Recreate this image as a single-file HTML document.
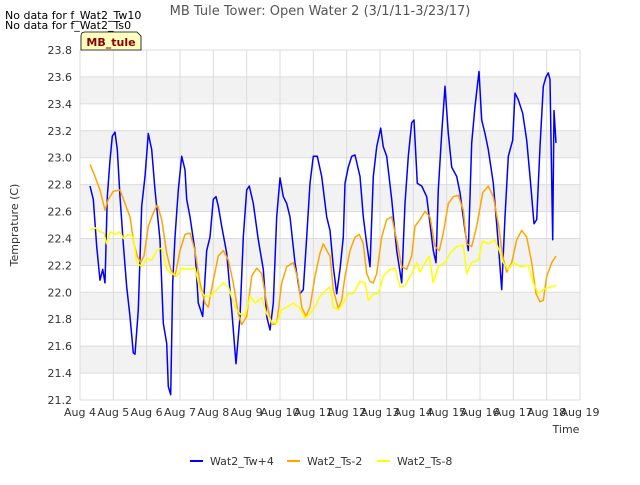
<!DOCTYPE html>
<html><head><meta charset="utf-8"><style>
body{margin:0;background:#fff;font-family:"Liberation Sans",sans-serif;}
svg text{font-family:"DejaVu Sans","Liberation Sans",sans-serif;}
</style></head><body>
<svg id="chart" width="640" height="480" xmlns="http://www.w3.org/2000/svg">
<rect width="640" height="480" fill="#fff"/>
<text x="320" y="15" text-anchor="middle" font-size="13" fill="#555">MB Tule Tower: Open Water 2 (3/1/11-3/23/17)</text>
<text x="5" y="19" font-size="11" fill="#000">No data for f_Wat2_Tw10</text>
<text x="5" y="29" font-size="11" fill="#000">No data for f_Wat2_Ts0</text>
<g id="plot"></g>
<g>
<path d="M81,50 L81,36 Q81,32 85,32 L137,32 L141,36 L141,50 Z" fill="#ffffc0" stroke="#000" stroke-width="0.8"/>
<text x="111" y="46" text-anchor="middle" font-size="11" font-weight="bold" fill="#8b0000">MB_tule</text>
</g>
<text x="18" y="225" text-anchor="middle" font-size="11" fill="#333" transform="rotate(-90 18 225)">Temprature (C)</text>
<text x="566" y="433" text-anchor="middle" font-size="11" fill="#333">Time</text>
<g>
<g><line x1="190" y1="461" x2="203" y2="461" stroke="#0000ff" stroke-width="2"/><text x="210" y="465" font-size="11" fill="#333">Wat2_Tw+4</text></g>
<g><line x1="287" y1="461" x2="300" y2="461" stroke="#ffa500" stroke-width="2"/><text x="307" y="465" font-size="11" fill="#333">Wat2_Ts-2</text></g>
<g><line x1="377" y1="461" x2="390" y2="461" stroke="#ffff00" stroke-width="2"/><text x="397" y="465" font-size="11" fill="#333">Wat2_Ts-8</text></g>
</g>
</svg>
<script>
const xTickLabels=["Aug 4","Aug 5","Aug 6","Aug 7","Aug 8","Aug 9","Aug 10","Aug 11","Aug 12","Aug 13","Aug 14","Aug 15","Aug 16","Aug 17","Aug 18","Aug 19"];
const yTickLabels=["21.2","21.4","21.6","21.8","22.0","22.2","22.4","22.6","22.8","23.0","23.2","23.4","23.6","23.8"];
const twDays=[0.3,0.4,0.5,0.6,0.68,0.75,0.82,0.9,0.97,1.05,1.12,1.2,1.3,1.4,1.5,1.6,1.65,1.75,1.85,1.95,2.05,2.15,2.25,2.4,2.5,2.6,2.65,2.72,2.78,2.85,2.95,3.05,3.15,3.2,3.3,3.45,3.55,3.68,3.8,3.9,4.0,4.08,4.15,4.25,4.4,4.55,4.68,4.8,4.9,5.0,5.08,5.2,5.35,5.5,5.6,5.7,5.8,5.9,6.0,6.1,6.2,6.3,6.45,6.6,6.7,6.8,6.9,7.0,7.12,7.25,7.4,7.5,7.6,7.7,7.8,7.9,7.95,8.05,8.15,8.25,8.4,8.5,8.6,8.7,8.8,8.9,9.02,9.1,9.2,9.35,9.5,9.65,9.75,9.85,9.95,10.02,10.12,10.25,10.4,10.5,10.6,10.68,10.75,10.85,10.95,11.05,11.15,11.3,11.4,11.55,11.65,11.75,11.85,11.97,12.05,12.15,12.25,12.4,12.55,12.65,12.75,12.85,12.98,13.05,13.15,13.28,13.4,13.5,13.62,13.7,13.8,13.9,13.98,14.05,14.1,14.18,14.22,14.28];
const twValues=[22.79,22.69,22.34,22.09,22.17,22.07,22.71,22.98,23.16,23.19,23.06,22.71,22.36,22.04,21.82,21.55,21.54,21.87,22.64,22.86,23.18,23.06,22.76,22.39,21.77,21.62,21.3,21.24,22.07,22.41,22.76,23.01,22.91,22.69,22.56,22.31,21.92,21.82,22.31,22.41,22.69,22.71,22.64,22.49,22.29,21.87,21.47,21.82,22.41,22.76,22.79,22.66,22.39,22.17,21.82,21.72,21.92,22.56,22.85,22.71,22.66,22.56,22.22,21.99,22.02,22.41,22.81,23.01,23.01,22.86,22.56,22.46,22.19,21.99,22.17,22.41,22.81,22.93,23.01,23.02,22.86,22.56,22.36,22.19,22.86,23.08,23.22,23.08,23.01,22.69,22.31,22.07,22.66,23.01,23.26,23.28,22.81,22.79,22.71,22.51,22.31,22.22,22.76,23.18,23.53,23.18,22.93,22.86,22.74,22.46,22.31,23.11,23.38,23.64,23.28,23.18,23.06,22.81,22.36,22.02,22.56,23.01,23.13,23.48,23.43,23.33,23.13,22.86,22.51,22.54,23.08,23.53,23.6,23.63,23.58,22.39,23.35,23.11];
const ts2Days=[0.3,0.45,0.6,0.75,0.85,1.0,1.2,1.35,1.5,1.62,1.72,1.82,1.92,2.05,2.2,2.32,2.45,2.6,2.72,2.85,3.0,3.15,3.3,3.45,3.6,3.75,3.85,4.0,4.15,4.3,4.45,4.6,4.75,4.85,5.0,5.15,5.3,5.45,5.6,5.75,5.9,6.05,6.2,6.4,6.55,6.65,6.78,6.9,7.05,7.2,7.3,7.45,7.5,7.6,7.75,7.85,7.95,8.1,8.25,8.38,8.5,8.6,8.7,8.8,8.9,9.05,9.2,9.35,9.5,9.65,9.8,9.95,10.05,10.2,10.35,10.5,10.65,10.78,10.9,11.05,11.2,11.35,11.5,11.6,11.75,11.9,12.08,12.25,12.4,12.55,12.68,12.8,12.95,13.1,13.25,13.4,13.55,13.68,13.8,13.9,14.0,14.15,14.28];
const ts2Values=[22.95,22.86,22.76,22.61,22.69,22.75,22.76,22.66,22.56,22.36,22.27,22.22,22.27,22.49,22.59,22.65,22.54,22.29,22.17,22.12,22.31,22.43,22.44,22.31,22.07,21.92,21.89,22.09,22.27,22.31,22.24,22.07,21.84,21.76,21.82,22.12,22.18,22.14,21.92,21.76,21.77,22.07,22.19,22.22,22.09,21.89,21.82,21.89,22.12,22.29,22.36,22.29,22.27,22.02,21.88,21.94,22.12,22.31,22.41,22.43,22.36,22.14,22.08,22.07,22.14,22.41,22.54,22.56,22.39,22.19,22.17,22.27,22.49,22.54,22.6,22.56,22.34,22.31,22.44,22.66,22.71,22.72,22.61,22.36,22.34,22.49,22.74,22.79,22.71,22.51,22.27,22.15,22.22,22.39,22.46,22.41,22.22,21.99,21.93,21.94,22.12,22.22,22.27];
const ts8Days=[0.3,0.45,0.6,0.72,0.8,0.9,1.05,1.2,1.3,1.45,1.6,1.7,1.85,2.0,2.15,2.3,2.45,2.6,2.75,2.9,3.05,3.2,3.45,3.6,3.75,3.9,4.1,4.3,4.45,4.65,4.8,4.95,5.1,5.25,5.45,5.6,5.75,5.9,6.05,6.2,6.4,6.6,6.75,6.9,7.05,7.2,7.4,7.5,7.6,7.75,7.9,8.05,8.2,8.4,8.55,8.65,8.8,8.95,9.1,9.3,9.45,9.6,9.75,9.95,10.1,10.2,10.35,10.48,10.6,10.75,10.95,11.1,11.3,11.5,11.6,11.75,11.95,12.08,12.25,12.45,12.58,12.7,12.85,13.0,13.2,13.45,13.6,13.75,13.9,14.1,14.28];
const ts8Values=[22.46,22.48,22.45,22.44,22.36,22.45,22.43,22.45,22.4,22.43,22.41,22.22,22.19,22.25,22.24,22.31,22.33,22.17,22.14,22.12,22.18,22.17,22.18,22.02,21.97,21.97,22.02,22.07,22.04,21.89,21.84,21.82,21.97,21.92,21.96,21.84,21.78,21.77,21.87,21.89,21.92,21.88,21.81,21.84,21.89,21.97,22.02,22.04,21.89,21.87,21.92,21.99,21.99,22.08,22.07,21.94,21.99,21.99,22.12,22.17,22.18,22.04,22.05,22.14,22.22,22.15,22.22,22.27,22.07,22.19,22.22,22.29,22.34,22.35,22.14,22.22,22.24,22.38,22.36,22.39,22.31,22.22,22.17,22.22,22.19,22.2,22.07,21.99,22.02,22.04,22.05];

const NS="http://www.w3.org/2000/svg";
const L=80,R=580,T=50,B=400,yMin=21.2,yMax=23.8,dMax=15;
function xScale(d){return L+d/dMax*(R-L);}
function yScale(v){return B-(v-yMin)/(yMax-yMin)*(B-T);}
const plot=document.getElementById('plot');
function mk(tag,attrs){const e=document.createElementNS(NS,tag);for(const k in attrs)e.setAttribute(k,attrs[k]);return e;}
// bands
for(let i=0;i<yTickLabels.length-1;i++){
  if(i%2===1){const v0=parseFloat(yTickLabels[i]),v1=parseFloat(yTickLabels[i+1]);
    const r=mk('rect',{x:L,y:yScale(v1),width:R-L,height:yScale(v0)-yScale(v1),fill:'#f2f2f2'});
    
    
    plot.appendChild(r);}
}
yTickLabels.forEach(t=>{const v=parseFloat(t),y=yScale(v);
  const g=mk('line',{x1:L,x2:R,y1:y,y2:y,stroke:'#dcdcdc','stroke-width':1});
  
  
  plot.appendChild(g);
  const tx=mk('text',{x:L-8,y:y+4,'text-anchor':'end','font-size':11,fill:'#333'});
  tx.textContent=t;
  
  
  plot.appendChild(tx);
});
xTickLabels.forEach((t,i)=>{const x=xScale(i);
  const g=mk('line',{x1:x,x2:x,y1:T,y2:B,stroke:'#dcdcdc','stroke-width':1});
  
  
  plot.appendChild(g);
  const tx=mk('text',{x:x,y:B+16,'text-anchor':'middle','font-size':11,fill:'#333'});
  tx.textContent=t;
  
  
  plot.appendChild(tx);
});
function series(days,vals,color,name){
  const d=days.map((dd,i)=>(i?'L':'M')+xScale(dd).toFixed(1)+','+yScale(vals[i]).toFixed(1)).join(' ');
  const p=mk('path',{d:d,fill:'none',stroke:color,'stroke-width':1.5,'stroke-linejoin':'round'});
  
  
  plot.appendChild(p);
}
series(twDays,twValues,'#0000ff','series-wat2-tw4');
series(ts2Days,ts2Values,'#ffa500','series-wat2-ts2');
series(ts8Days,ts8Values,'#ffff00','series-wat2-ts8');
</script>
</body></html>
